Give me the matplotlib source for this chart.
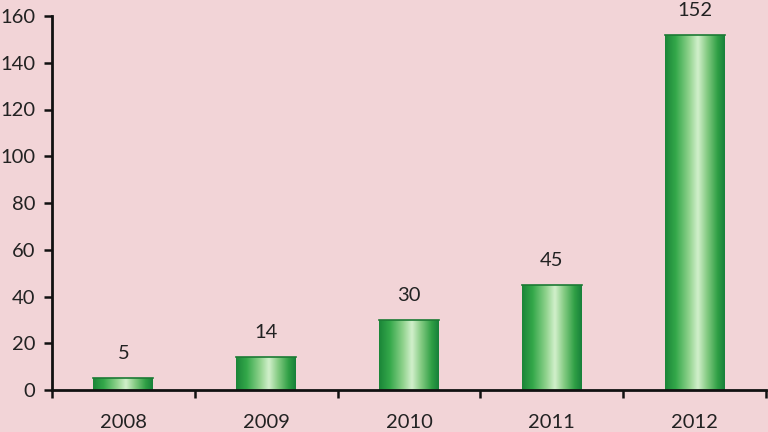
import matplotlib
matplotlib.use("Agg")
import matplotlib.pyplot as plt
import numpy as np
from matplotlib.colors import LinearSegmentedColormap

years = ["2008", "2009", "2010", "2011", "2012"]
values = [5, 14, 30, 45, 152]
yticks = [0, 20, 40, 60, 80, 100, 120, 140, 160]

bg = "#F2D4D7"
plt.rcParams['font.family'] = ['Lato', 'DejaVu Sans']
fs = 14.5

fig = plt.figure(figsize=(7.68, 4.32), dpi=100, facecolor=bg)
ax = fig.add_axes([52/768, 1 - 390/432, (766-52)/768, (390-16)/432])
ax.set_facecolor(bg)

cmap = LinearSegmentedColormap.from_list("g", [
    (0.0, "#1a8538"), (0.18, "#34a84a"), (0.4, "#8fd28c"),
    (0.55, "#d2f0cc"), (0.7, "#86cc84"), (0.88, "#2f9f45"), (1.0, "#17803a")])

x = np.arange(len(years))
w = 0.42
bars = ax.bar(x, values, width=w, color="none", edgecolor="none", zorder=2)
grad = np.linspace(0, 1, 256).reshape(1, -1)
for b, v in zip(bars, values):
    x0 = b.get_x()
    im = ax.imshow(grad, cmap=cmap, aspect="auto", extent=[x0, x0 + w, 0, v],
                   zorder=2, interpolation="bicubic")
    im.set_clip_path(b)
    ax.plot([x0, x0 + w], [v, v], color="#1c7a34", lw=1.2, zorder=3)
    ax.text(b.get_x() + w / 2, v + 10.5, str(v), ha="center", va="center",
            fontsize=fs, color="#222222", clip_on=False)

ax.set_xlim(-0.5, len(years) - 0.5)
ax.set_ylim(0, 160)
ax.set_yticks(yticks)
ax.set_yticklabels([str(t) for t in yticks], fontsize=fs, color="#222222")
ax.set_xticks(np.arange(len(years) + 1) - 0.5, minor=False)
ax.set_xticklabels([])
ax.set_xticks(x, minor=True)
ax.set_xticklabels(years, minor=True, fontsize=fs, color="#222222")
ax.tick_params(axis="x", which="minor", length=0, pad=17)
ax.tick_params(axis="x", which="major", length=6, width=1.8, color="#111111")
ax.tick_params(axis="y", length=6, width=1.8, color="#111111", pad=6)

for s in ["top", "right"]:
    ax.spines[s].set_visible(False)
for s in ["left", "bottom"]:
    ax.spines[s].set_linewidth(2)
    ax.spines[s].set_color("#111111")

fig.savefig("out.png", dpi=100, facecolor=bg)
